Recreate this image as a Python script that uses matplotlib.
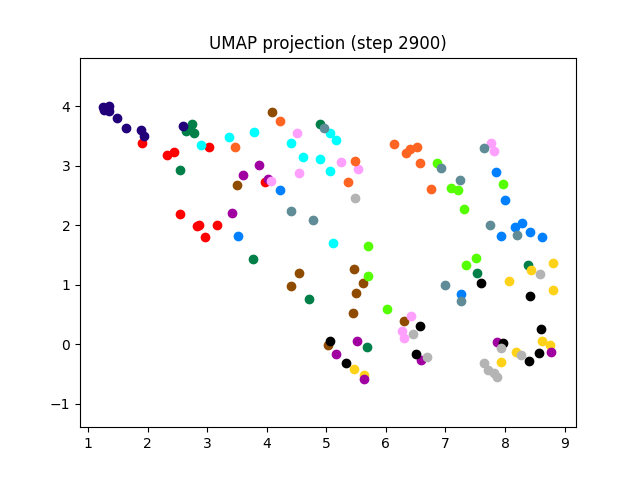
import matplotlib
matplotlib.use('Agg')
import matplotlib.pyplot as plt

# UMAP embedding, one entry per class (x, y lists)
red_x = [1.901, 2.326, 2.438, 3.030, 2.549, 2.829, 2.867, 2.963, 3.159, 3.975]
red_y = [3.386, 3.172, 3.232, 3.311, 2.191, 1.985, 2.002, 1.801, 2.002, 2.731]

green_x = [2.740, 2.716, 2.784, 2.644, 2.544, 4.898, 3.763, 4.708, 5.686, 7.532, 8.383]
green_y = [3.691, 3.607, 3.550, 3.579, 2.926, 3.701, 1.433, 0.758, -0.038, 1.199, 1.326]

brown_x = [4.082, 3.500, 4.540, 4.406, 5.468, 5.609, 5.497, 5.451, 6.302, 5.032]
brown_y = [3.901, 2.671, 1.192, 0.970, 1.259, 1.032, 0.865, 0.523, 0.396, -0.012]

yellow_x = [5.463, 5.626, 8.438, 8.814, 8.064, 8.814, 8.622, 8.752, 8.186, 7.925]
yellow_y = [-0.423, -0.523, 1.254, 1.360, 1.059, 0.915, 0.050, -0.005, -0.122, -0.306]

magenta_x = [3.874, 3.601, 3.411, 4.015, 5.513, 5.156, 5.626, 6.587, 7.874, 8.780]
magenta_y = [3.015, 2.838, 2.207, 2.768, 0.055, -0.167, -0.585, -0.268, 0.033, -0.122]

black_x = [6.580, 5.060, 5.334, 6.498, 7.599, 8.421, 8.606, 7.963, 8.579, 8.399]
black_y = [0.306, 0.062, -0.313, -0.159, 1.025, 0.808, 0.251, 0.022, -0.151, -0.279]

gray_x = [5.480, 6.458, 6.693, 8.589, 7.930, 8.265, 7.649, 7.716, 7.817, 7.867]
gray_y = [2.458, 0.167, -0.217, 1.176, -0.062, -0.189, -0.323, -0.435, -0.480, -0.552]

indigo_x = [1.243, 1.352, 1.268, 1.344, 1.487, 1.643, 1.889, 1.945, 2.589]
indigo_y = [3.980, 4.005, 3.930, 3.921, 3.791, 3.634, 3.590, 3.495, 3.662]

lime_x = [5.708, 5.698, 6.012, 6.851, 7.086, 7.208, 7.309, 7.963, 7.510, 7.342]
lime_y = [1.644, 1.142, 0.590, 3.038, 2.630, 2.587, 2.263, 2.697, 1.443, 1.326]

blue_x = [4.227, 3.512, 7.846, 8.008, 7.930, 8.164, 8.287, 8.416, 8.617, 7.258]
blue_y = [2.587, 1.818, 2.888, 2.425, 1.823, 1.973, 2.035, 1.886, 1.806, 0.848]

pink_x = [4.070, 4.512, 5.240, 5.530, 4.540, 7.757, 7.824, 6.419, 6.274, 6.302]
pink_y = [2.742, 3.545, 3.060, 2.948, 2.871, 3.373, 3.249, 0.480, 0.229, 0.105]

cyan_x = [2.891, 3.371, 3.780, 4.411, 4.607, 4.888, 5.065, 5.156, 5.060, 5.111]
cyan_y = [3.339, 3.478, 3.557, 3.378, 3.144, 3.115, 3.540, 3.433, 2.915, 1.694]

orange_x = [3.471, 4.227, 5.485, 5.362, 6.139, 6.336, 6.408, 6.520, 6.576, 6.760]
orange_y = [3.311, 3.741, 3.072, 2.731, 3.356, 3.206, 3.273, 3.311, 3.043, 2.609]

teal_x = [4.965, 4.401, 4.785, 6.918, 7.237, 7.649, 7.745, 8.198, 6.985, 7.263]
teal_y = [3.634, 2.236, 2.079, 2.965, 2.764, 3.294, 2.002, 1.828, 0.987, 0.731]

groups = [
    (red_x, red_y, '#ff0000'),
    (green_x, green_y, '#007f48'),
    (brown_x, brown_y, '#8f4c00'),
    (yellow_x, yellow_y, '#ffd21a'),
    (magenta_x, magenta_y, '#a000a0'),
    (black_x, black_y, '#000000'),
    (gray_x, gray_y, '#b4b4b4'),
    (indigo_x, indigo_y, '#22007a'),
    (lime_x, lime_y, '#55ff00'),
    (blue_x, blue_y, '#0080ff'),
    (pink_x, pink_y, '#ffa0ff'),
    (cyan_x, cyan_y, '#00ffff'),
    (orange_x, orange_y, '#ff6422'),
    (teal_x, teal_y, '#5f8c96'),
]

fig = plt.figure(figsize=(6.4, 4.8), dpi=100)
for xs, ys, col in groups:
    plt.scatter(xs, ys, color=col)
plt.gca().set_aspect('equal', 'datalim')
plt.title('UMAP projection (step 2900)')
plt.savefig('out.png')
